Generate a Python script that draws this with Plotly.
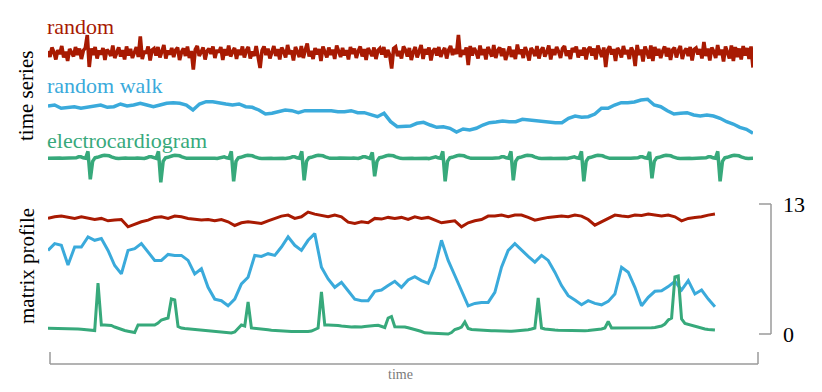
import numpy as np
import plotly.graph_objects as go

# page body has an 8px margin, so the figure is drawn at (8, 8)
OFF = 8
W, H = 822 - OFF, 392 - OFF

# --- top panel: raw time series -------------------------------------------
# white noise (units of ~5 px)
random_noise = [
    0.4, -0.8, 1.1, 0.2, -1.3, 0.6, -0.2, 1.4, -0.9, 0.3, -1.6, 0.8, 0.1, -0.7, 1.2, -0.4, 0.9, -1.2, 0.5, 1.0,
    3.6, -2.8, 0.9, -0.4, 1.2, -1.1, 0.5, -0.3, 1.0, -1.4, 0.7, 0.2, -0.6, 1.5, -1.0, 0.3, 1.1, -0.7, 0.6, -1.3,
    1.3, -0.5, 0.8, -1.0, 0.4, 1.2, -0.8, 3.3, -1.2, 0.4, -0.1, 1.3, -1.5, 0.6, 0.9, -0.5, 1.2, -0.9, 0.3, 1.6,
    -1.1, 0.5, -0.3, 1.0, -0.8, 0.6, 1.1, -1.4, 0.2, 0.9, -0.6, 1.3, -1.0, 0.4, -3.3, 0.7, 1.4, -0.6, 0.2, 1.1,
    -1.3, 0.4, 0.9, -0.2, 1.3, -1.0, 0.6, 0.1, 1.2, -1.4, 0.8, -0.5, 1.5, -0.7, 0.3, 1.0, -1.2, 0.7, -0.4, 1.3,
    -0.9, 0.5, 1.2, -1.1, 0.3, -0.6, 1.4, -0.8, -3.0, 0.5, 1.3, -0.4, 0.9, -1.1, 0.2, 1.4, -0.6, 0.8, -1.3, 1.1,
    0.3, -0.9, 1.6, -0.2, 0.5, -1.5, 1.2, 0.0, -0.8, 1.4, -1.0, 0.6, 1.9, -0.7, 0.4, -1.2, 1.0, -0.3, 0.8, -1.6,
    1.3, 0.2, -0.9, 1.1, -0.4, 0.7, -1.2, 1.5, 0.3, -0.8, 1.0, -0.5, 0.6, -1.3, 1.2, -0.2, 0.9, -1.0, 0.4, 1.3,
    -0.7, 0.8, -1.4, 1.0, 0.2, -0.6, 1.1, -1.2, 0.5, 0.9, -0.3, 1.2, -0.9, 0.6, -0.4, -3.1, 0.9, 1.2, -0.6, 0.4,
    -1.1, 1.3, 0.6, -0.7, 1.0, -1.4, 0.2, 1.2, -0.9, 0.5, 1.6, -1.2, 0.8, -0.3, 1.1, -1.5, 0.4, 0.9, -0.5, 1.2,
    -0.8, 0.3, 1.0, -1.1, 0.6, 1.4, -0.4, 0.8, -0.2, 3.6, -0.8, 0.6, -0.3, 1.1, -2.4, 1.4, -0.5, 1.0, 0.2, -1.1,
    1.5, -0.4, 0.8, -1.3, 1.2, 0.3, -0.7, 1.6, -1.0, 0.5, 1.1, -0.6, 0.9, -1.4, 0.3, 1.3, -0.8, 0.6, -1.2, 1.7,
    -0.2, 0.7, -1.0, 1.2, 0.1, -1.5, 1.0, 0.4, -0.6, 1.4, -1.1, 0.5, 1.1, -0.7, 0.2, 1.5, -1.3, 0.8, -0.4, 1.2,
    0.3, -1.0, 0.9, 1.4, -0.6, 0.5, -1.2, 1.0, 0.2, 1.3, -0.9, 0.6, -0.5, 1.1, -1.3, 0.7, 1.2, -0.5, 0.9, -1.3,
    1.5, 0.1, -0.8, 1.1, -2.8, 0.6, 1.3, -0.3, 0.8, -1.6, 1.0, 0.4, -0.9, 1.4, -0.2, 0.6, -1.2, 1.1, 0.3, -2.6,
    1.6, -0.4, 0.7, -1.7, 1.3, 0.2, -1.1, 1.5, -1.6, 1.2, -0.5, 0.8, -1.0, 0.4, 1.3, -0.7, 1.0, -1.4, 0.6, 1.1,
    -0.9, 0.5, 1.4, -1.2, 0.3, 0.9, -0.6, 1.2, -1.5, 0.7, 1.0, -0.3, 0.8, -1.1, 2.2, -0.6, 0.9, -1.5, 1.1, 0.3,
    -1.0, 1.6, -0.4, 0.7, -1.7, 1.3, 0.2, -1.1, 1.5, -1.6, 1.2, -0.8, 0.9, -1.3, 1.4, -0.5, 1.0, -1.2, 1.3, -2.9,
]

random_walk = [
    34, 35, 31.7, 32.7, 33.3, 31.7, 32.7, 34, 35, 32.7, 33.3, 36, 34, 35, 36.7, 35, 33.3, 35, 36.7, 37.3,
    36.7, 35, 30, 36, 38.3, 38.3, 36.7, 36, 35, 36, 33.3, 32.7, 30, 26, 26.7, 28.3, 30, 29.3, 27.3, 29.3,
    29.3, 30, 29.3, 29.3, 28.3, 28.3, 29.3, 27.3, 27.3, 25, 23.3, 26.7, 18.3, 13.3,
    13.3, 14, 16.7, 17.7, 15, 12.7, 13.3, 11.7, 8, 11, 10, 11.7, 15, 17.3, 18, 19, 18.3, 18.3, 20.7, 20,
    19.3, 18.3, 18.3, 17.3, 17.3, 21.7, 24, 22.7, 23.3, 26, 31.7, 31.7, 35, 37.3, 37.3, 38, 40, 40.7, 35, 33.3,
    29.3, 26, 26.7, 27.3, 25, 24, 25, 24, 21.7, 18.3, 16, 12.7, 10.7, 6.7,
]

ecg = [
    0, 0.2, 0, -0.2, 0, 0.3, 0, 0, -0.2, 0, 0.2, 0,
    0.5, 1.5, 1.5, 0.5, 0, 7, -21, -3, 0.5, 1, 2, 2.5, 3, 3, 2.5, 1.5, 0.5,
    0, -0.3, 0, 0, 0.2, 0, -0.2, 0, 0, 0.3, 0, 0, -0.2,
    0.5, 1.5, 1.5, 0.5, 0, 7, -24, -3, 0.5, 1, 2, 2.5, 3, 3, 2.5, 1.5, 0.5,
    0, 0, -0.2, 0, 0.2, 0, 0, -0.3, 0, 0, 0.2, 0, 0, -0.2,
    0.5, 1.5, 1.5, 0.5, 0, 7, -23, -3, 0.5, 1, 2, 2.5, 3, 3, 2.5, 1.5, 0.5,
    0, -0.2, 0, 0.2, 0, 0, -0.2, 0, 0.3, 0, 0, -0.2, 0,
    0.5, 1.5, 1.5, 0.5, 0, 7, -22, -3, 0.5, 1, 2, 2.5, 3, 3, 2.5, 1.5, 0.5,
    0, 0, -0.3, 0, 0.2, 0, 0, -0.2, 0, 0, 0.2, 0, -0.2,
    0.5, 1.5, 1.5, 0.5, 0, 6, -18, -3, 0.5, 1, 2, 2.5, 3, 3, 2.5, 1.5, 0.5,
    0, -0.2, 0, 0, 0.3, 0, -0.2, 0, 0, 0.2, 0, 0, -0.3,
    0.5, 1.5, 1.5, 0.5, 0, 7, -23, -3, 0.5, 1, 2, 2.5, 3, 3, 2.5, 1.5, 0.5,
    0, 0, -0.2, 0, 0.2, 0, 0, -0.3, 0, 0, 0.2, 0,
    0.5, 1.5, 1.5, 0.5, 0, 7, -22, -3, 0.5, 1, 2, 2.5, 3, 3, 2.5, 1.5, 0.5,
    0, -0.2, 0, 0, 0.2, 0, -0.2, 0, 0, 0.3, 0, 0, -0.2,
    0.5, 1.5, 1.5, 0.5, 0, 7, -23, -3, 0.5, 1, 2, 2.5, 3, 3, 2.5, 1.5, 0.5,
    0, 0, -0.2, 0, 0.2, 0, 0, -0.3, 0, 0, 0.2, 0,
    0.5, 1.5, 1.5, 0.5, 0, 6.5, -20, -3, 0.5, 1, 2, 2.5, 3, 3, 2.5, 1.5, 0.5,
    0, -0.2, 0, 0, 0.2, 0, -0.2, 0, 0, 0.3, 0, 0,
    0.5, 1.5, 1.5, 0.5, 0, 7, -23, -3, 0.5, 1, 2, 2.5, 3, 3, 2.5, 1.5, 0.5,
    0, -0.2, 0, 0,
]

# --- bottom panel: matrix profiles (0 .. 13) ------------------------------
mp_random = [
    11.56, 11.72, 11.79, 11.66, 11.56, 11.72, 11.56, 11.45, 11.56, 11.32,
    11.39, 11.45, 10.72, 10.98, 11.22, 11.39, 11.66, 11.72, 11.56, 11.79,
    11.72, 11.56, 11.45, 11.39, 11.45, 11.32, 11.45, 11.22, 10.85, 11.12,
    11.22, 11.12, 11.05, 11.32, 11.56, 11.79, 11.89, 11.56, 11.72, 12.19,
    11.99, 11.89, 11.72, 11.89, 11.72, 11.19, 11.05, 11.22, 11.12, 11.56,
    11.49, 11.66, 11.56, 11.66, 11.45, 11.72, 11.56, 11.66, 11.39, 11.12,
    11.22, 11.32, 10.72, 11.12, 11.32, 11.45, 11.79, 11.79, 11.89, 11.72,
    11.89, 11.89, 11.66, 11.39, 11.52, 11.66, 11.72, 11.79, 11.72, 11.89,
    11.79, 11.45, 10.88, 11.19, 11.56, 11.89, 11.79, 11.72, 11.89, 11.86,
    11.99, 11.89, 11.79, 11.89, 11.72, 11.32, 11.56, 11.66, 11.72, 11.89,
    11.99,
]

mp_walk = [
    8.36, 9.04, 8.87, 6.9, 8.70, 8.70, 9.71, 9.37, 9.54, 8.36,
    6.85, 6.01, 8.36, 8.53, 9.04, 8.20, 7.36, 7.36, 7.96, 7.86,
    7.86, 7.36, 6.01, 6.52, 4.67, 3.49, 3.33, 2.82, 3.49, 5.01,
    5.68, 7.86, 7.76, 8.03, 7.86, 8.70, 9.71, 8.87, 8.36, 9.37,
    10.04, 6.68, 5.51, 4.67, 5.17, 4.33, 3.49, 3.33, 3.33, 4.27,
    4.40, 4.84, 5.27, 4.67, 5.41, 5.74, 5.34, 5.07, 6.68, 9.37,
    7.36, 5.85, 4.33, 2.82, 3.06, 3.16, 3.16, 4.17, 6.68, 8.36,
    9.04, 8.36, 7.76, 7.19, 7.86, 7.36, 6.18, 4.84, 3.83, 3.39,
    2.92, 3.33, 3.06, 2.92, 3.26, 4.00, 6.68, 6.18, 4.67, 2.82,
    3.66, 4.27, 4.33, 4.74, 5.27, 4.40, 5.34, 4.00, 4.40, 3.49,
    2.72,
]

mp_ecg = [
    0.57, 0.57, 0.56, 0.55, 0.55, 0.54, 0.53, 0.52, 0.5, 0.5, 0.48, 0.46, 0.44, 0.42,
    0.35, 5.1,
    0.9, 0.9, 0.9, 0.85, 0.7, 0.57, 0.45, 0.35, 0.28, 0.22, 0.15, 0.9,
    0.9, 0.9, 0.9, 0.9, 0.9, 1.1, 1.4, 1.5, 1.6, 3.5, 3.4,
    0.75, 0.6, 0.55, 0.52, 0.45, 0.42, 0.38, 0.35, 0.3, 0.28,
    0.25, 0.22, 0.2, 0.18, 0.15, 0.12, 0.1, 0.2, 0.6, 0.9, 0.8, 3.2,
    0.6, 0.55, 0.5, 0.48, 0.45, 0.42, 0.38, 0.35,
    0.33, 0.3, 0.3, 0.28, 0.25, 0.25, 0.25, 0.22, 0.2, 0.25, 0.3, 0.45, 0.6, 4.2,
    0.9, 0.9, 0.9, 0.88, 0.85, 0.8, 0.75, 0.7, 0.7, 0.72, 0.7, 0.7, 0.75, 0.8, 0.8, 0.85,
    0.87, 0.75, 0.65, 1.6, 1.75, 0.73, 0.73, 0.73, 0.7, 0.62, 0.55, 0.45, 0.35, 0.25,
    0.12, 0.1, 0.08, 0.07, 0.05, 0.03, 0.02, 0.0, 0.15, 0.45, 0.55, 0.7, 1.2, 0.55, 0.45,
    0.42, 0.4, 0.38, 0.37, 0.35, 0.33, 0.32, 0.3, 0.3, 0.28, 0.27, 0.27, 0.3, 0.32, 0.35, 0.4,
    0.43, 0.5, 0.6, 3.6, 0.6, 0.5,
    0.45, 0.43, 0.4, 0.38, 0.37, 0.35, 0.33, 0.32, 0.3, 0.3, 0.3, 0.32, 0.35, 0.38, 0.4, 0.45, 0.5, 0.6,
    1.25, 0.6,
    0.6, 0.58, 0.57, 0.56, 0.55, 0.55, 0.55, 0.56, 0.57, 0.58, 0.6, 0.62, 0.65, 0.7, 0.8,
    1.0, 1.4, 1.6, 5.7, 5.8, 1.5, 1.05, 0.95, 0.85, 0.75, 0.65, 0.55, 0.5, 0.45, 0.42, 0.4,
]

mp_ticks = [0, 13]

RED, BLUE, GREEN = "#a81a02", "#3aaadb", "#37a97b"
SERIF = "Liberation Serif"
GREY = "#9a9a9a"

T_END = 100      # series length (time units)
MP_END = 94.6    # matrix profile is shorter by the window length


# positions below are given in screen pixels of the 822x392 page
def px_x(p):
    return (p - OFF) / W


def px_y(p):
    return 1 - (p - OFF) / H


def band(top, bottom):
    return [px_y(bottom), px_y(top)]


fig = go.Figure()

fig.add_trace(go.Scatter(x=np.linspace(0, T_END, len(random_noise)), y=random_noise,
                         mode="lines", line=dict(color=RED, width=3.6), yaxis="y"))
fig.add_trace(go.Scatter(x=np.linspace(0, T_END, len(random_walk)), y=random_walk,
                         mode="lines", line=dict(color=BLUE, width=3.5), yaxis="y2"))
fig.add_trace(go.Scatter(x=np.linspace(0, T_END, len(ecg)), y=ecg,
                         mode="lines", line=dict(color=GREEN, width=3.5), yaxis="y3"))

for vals, col in [(mp_random, RED), (mp_walk, BLUE), (mp_ecg, GREEN)]:
    fig.add_trace(go.Scatter(x=np.linspace(0, MP_END, len(vals)), y=vals,
                             mode="lines", line=dict(color=col, width=3), yaxis="y4"))

hidden = dict(visible=False, fixedrange=True)
fig.update_layout(
    width=W, height=H,
    margin=dict(l=0, r=0, t=0, b=0),
    paper_bgcolor="white", plot_bgcolor="white",
    showlegend=False,
    xaxis=dict(domain=[px_x(48), px_x(753)], range=[0, T_END], **hidden),
    yaxis=dict(domain=band(28, 78), range=[-5, 5], **hidden),
    yaxis2=dict(domain=band(95, 140), range=[0, 45], anchor="x", **hidden),
    yaxis3=dict(domain=band(145, 190), range=[-31.7, 13.3], anchor="x", **hidden),
    yaxis4=dict(domain=band(200, 340), range=[-0.6, 13.4], anchor="x", **hidden),
)

# series labels
labels = [("random", RED, 26), ("random walk", BLUE, 85), ("electrocardiogram", GREEN, 140)]
for txt, col, yp in labels:
    fig.add_annotation(text=txt, x=px_x(45), y=px_y(yp), xref="paper", yref="paper",
                       xanchor="left", yanchor="middle", showarrow=False,
                       font=dict(family=SERIF, size=22, color=col))

for txt, xp, yp in [("time series", 26, 96), ("matrix profile", 27, 266)]:
    fig.add_annotation(text=txt, x=px_x(xp), y=px_y(yp), xref="paper", yref="paper",
                       xanchor="center", yanchor="middle", textangle=-90, showarrow=False,
                       font=dict(family=SERIF, size=21, color="black"))

# right bracket axis for the matrix profile
fig.add_shape(type="line", xref="paper", yref="y4", x0=px_x(771), x1=px_x(771),
              y0=mp_ticks[0], y1=mp_ticks[-1], line=dict(color=GREY, width=1.5))
for v in mp_ticks:
    fig.add_shape(type="line", xref="paper", yref="y4", x0=px_x(759), x1=px_x(771),
                  y0=v, y1=v, line=dict(color=GREY, width=1.5))
    fig.add_annotation(text=str(v), x=px_x(781), y=v, xref="paper", yref="y4",
                       xanchor="left", yanchor="middle", showarrow=False,
                       font=dict(family=SERIF, size=22, color="black"))

# bottom time bracket
fig.add_shape(type="line", xref="paper", yref="paper", x0=px_x(50), x1=px_x(758),
              y0=px_y(364), y1=px_y(364), line=dict(color=GREY, width=1.5))
for xp in (50, 758):
    fig.add_shape(type="line", xref="paper", yref="paper", x0=px_x(xp), x1=px_x(xp),
                  y0=px_y(352), y1=px_y(364), line=dict(color=GREY, width=1.5))
fig.add_annotation(text="time", x=px_x(400), y=px_y(374), xref="paper", yref="paper",
                   xanchor="center", yanchor="middle", showarrow=False,
                   font=dict(family=SERIF, size=14, color="#7a7a7a"))

fig.write_html("out.html")
